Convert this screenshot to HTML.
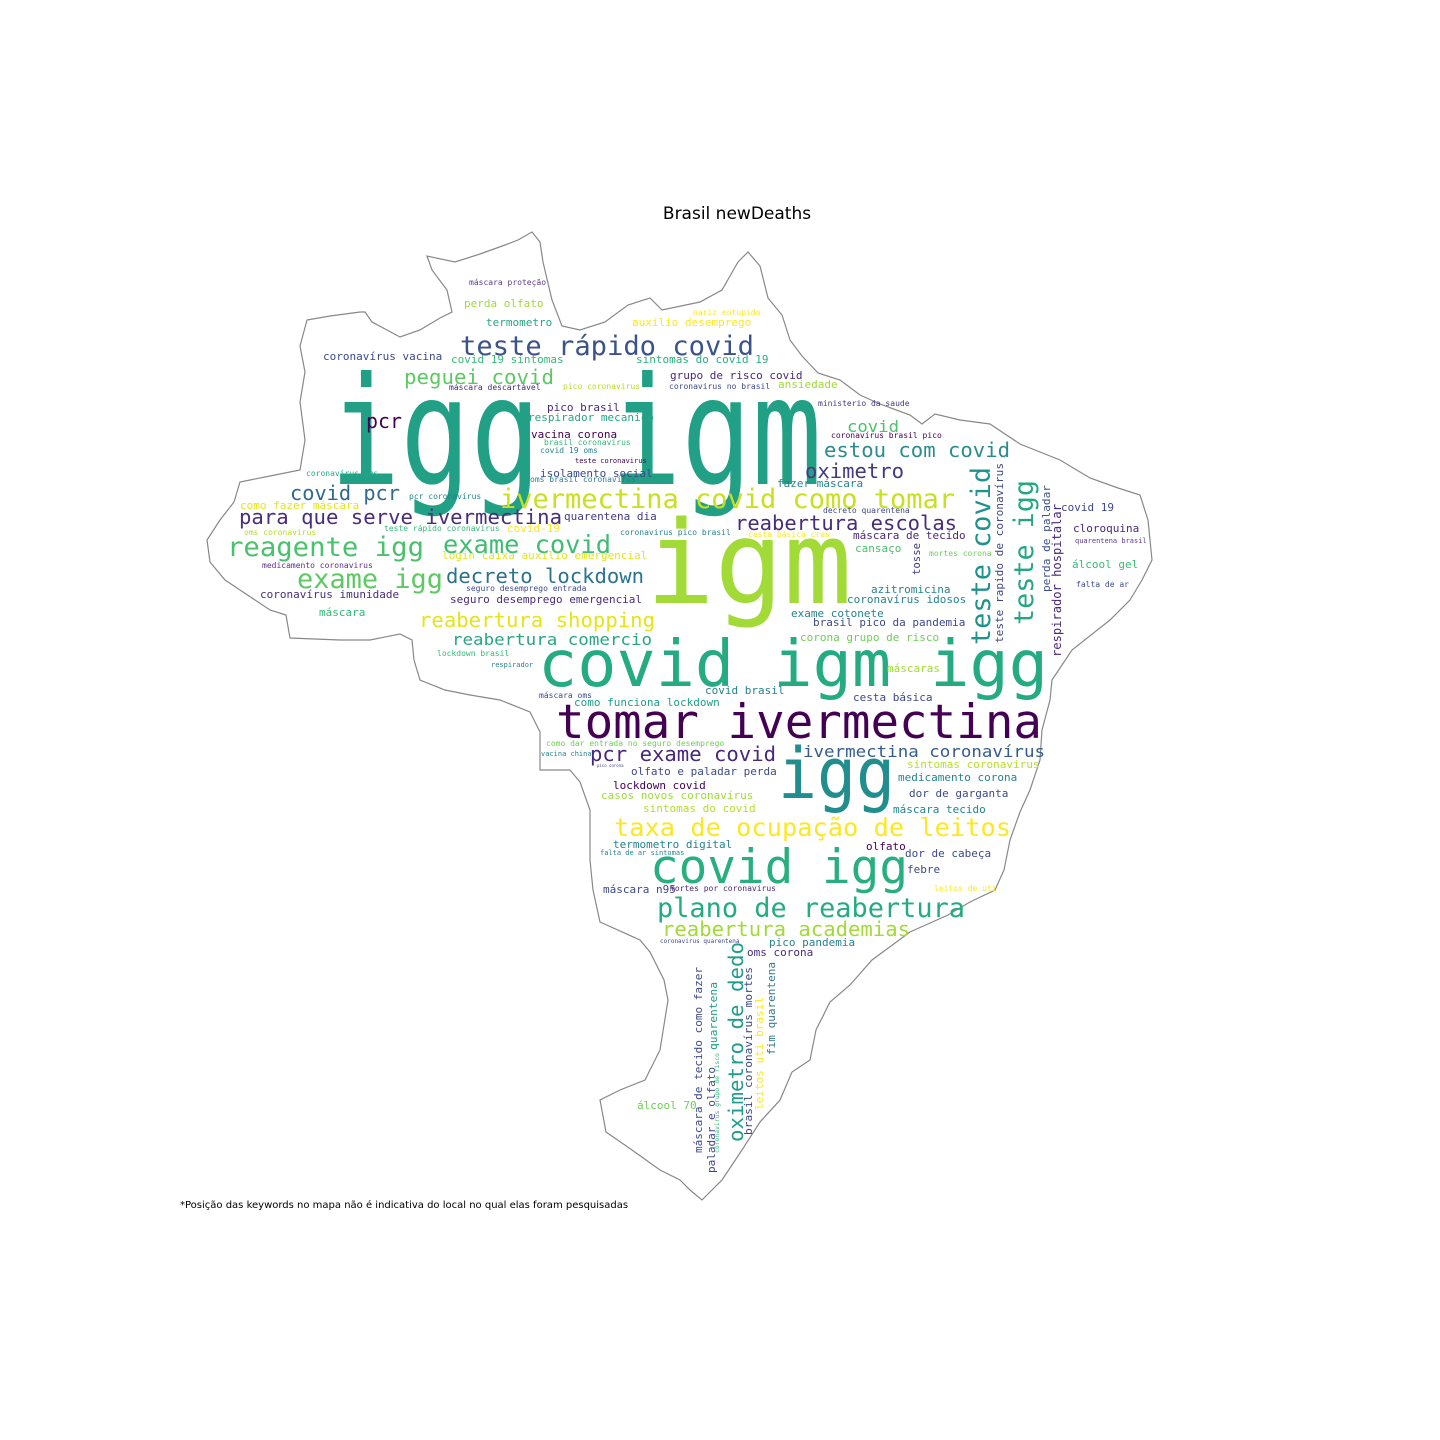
<!DOCTYPE html>
<html><head><meta charset="utf-8">
<style>
html,body{margin:0;padding:0;background:#fff;}
svg{display:block;}
.w{font-family:"DejaVu Sans Mono","Liberation Mono",monospace;}
</style></head>
<body>
<svg id="cloud" width="1440" height="1440" viewBox="0 0 1440 1440" xmlns="http://www.w3.org/2000/svg">
<rect width="1440" height="1440" fill="#fff"/>
<text x="737" y="219" text-anchor="middle" font-family="DejaVu Sans, Liberation Sans, sans-serif" font-size="17" fill="#000">Brasil newDeaths</text>
<polygon fill="none" stroke="#888" stroke-width="1.2" points="307,320 330,316 360,312 365,312 372,322 400,337 420,330 440,318 452,312 447,290 432,270 427,256 455,262 480,254 505,245 518,240 532,232 540,242 543,262 552,300 562,326 580,330 605,322 628,305 650,298 662,310 700,302 722,290 738,262 748,252 760,266 768,298 782,315 790,340 802,356 818,373 840,380 860,395 880,404 910,415 922,424 935,414 960,420 990,424 1020,444 1060,460 1090,478 1118,488 1140,495 1148,520 1152,560 1142,580 1130,600 1110,620 1072,650 1052,680 1050,700 1042,730 1040,760 1030,790 1020,812 1010,840 1004,870 995,890 970,902 948,915 910,932 872,960 850,985 830,1002 816,1030 810,1060 792,1072 780,1100 760,1122 742,1150 722,1180 702,1200 690,1190 680,1180 660,1170 632,1150 606,1132 600,1100 620,1090 645,1080 660,1050 668,1000 664,980 650,952 640,940 600,922 593,890 590,860 590,810 580,782 570,770 540,770 540,732 530,712 500,700 470,695 445,690 420,680 414,660 412,640 400,634 370,640 340,640 290,638 286,615 270,610 240,590 225,580 210,562 207,540 220,520 234,502 240,482 270,476 300,470 305,440 300,402 305,372 300,346 307,320"/>
<text x="180" y="1208" font-family="DejaVu Sans, Liberation Sans, sans-serif" font-size="10" fill="#000">*Posição das keywords no mapa não é indicativa do local no qual elas foram pesquisadas</text>
<g id="words" class="w"></g>
</svg>
<script>
// word, x, y, font size, colour, rotation(0/-90), optional textLength
const words = [
["igg igm",330,484,150,"#21a085",0,492],
["igm",646,603,115,"#a2da37",0,206],
["covid igm igg",538,686,64,"#25ab82",0,510],
["tomar ivermectina",556,738,47,"#440154",0,486],
["igg",778,798,70,"#218e8d",0,117],
["covid igg",650,883,47,"#29af7f",0,258],
["teste rápido covid",460,355,27,"#3b528b",0,294],
["ivermectina covid como tomar",500,508,27,"#c8e020",0,455],
["reagente igg",227,556,27,"#4ac16d",0,197],
["exame igg",297,588,27,"#5ec962",0,146],
["exame covid",443,553,25,"#3fbc73",0,168],
["decreto lockdown",446,583,20,"#2c728e",0,198],
["para que serve ivermectina",239,524,20,"#472d7b",0,323],
["covid pcr",290,500,20,"#31688e",0,110],
["peguei covid",404,384,20,"#5ec962",0,150],
["pcr",366,428,20,"#440154",0,36],
["taxa de ocupação de leitos",614,836,25,"#fde725",0,397],
["plano de reabertura",657,917,27,"#25ab82",0,308],
["reabertura academias",662,936,20,"#a2da37",0,248],
["reabertura shopping",419,627,20,"#e5e419",0,236],
["reabertura comercio",452,645,16,"#29a584",0,200],
["reabertura escolas",735,530,20,"#472d7b",0,222],
["estou com covid",824,457,20,"#2c8c8c",0,186],
["oximetro",805,478,20,"#443983",0,99],
["covid",847,432,16,"#4ac16d",0,52],
["ivermectina coronavírus",803,757,16,"#365c8d",0,242],
["pcr exame covid",590,761,20,"#482878",0,186],
["teste covid",990,645,27,"#20928c",-90,178],
["teste igg",1033,625,27,"#25a584",-90,145],
["teste rapido de coronavírus",1003,643,11,"#3e4989",-90,180],
["perda de paladar",1050,592,11,"#3b528b",-90,107],
["respirador hospitalar",1061,657,12,"#482878",-90,153],
["tosse",920,575,11,"#443983",-90,32],
["oximetro de dedo",743,1142,20,"#1f9e89",-90,200],
["máscara de tecido como fazer",702,1153,11,"#3e4989",-90,186],
["paladar e olfato",715,1173,11,"#3e4989",-90,106],
["quarentena",717,1050,11,"#1f9e89",-90,68],
["coronavirus grupo de risco",719,1153,6,"#35b779",-90,100],
["brasil coronavírus mortes",752,1135,11,"#3e4989",-90,168],
["leitos uti brasil",763,1110,11,"#fde725",-90,113],
["fim quarentena",775,1055,11,"#35778e",-90,93],
["máscara proteção",469,285,8,"#5b3c8e"],
["perda olfato",464,307,11,"#a0da39"],
["termometro",486,326,11,"#2aa584"],
["auxilio desemprego",632,326,11,"#fde725"],
["nariz entupido",693,315,8,"#fde725"],
["coronavírus vacina",323,360,11,"#3e4989"],
["covid 19 sintomas",451,363,11,"#35b779"],
["sintomas do covid 19",636,363,11,"#2ab07f"],
["grupo de risco covid",670,379,11,"#482878"],
["coronavirus no brasil",669,389,8,"#3e4989"],
["ansiedade",778,388,11,"#a0da39"],
["máscara descartável",449,390,8,"#482878"],
["pico coronavirus",563,389,8,"#b5de2b"],
["ministerio da saude",818,406,8,"#443983"],
["pico brasil",547,411,11,"#482878"],
["respirador mecanico",528,421,11,"#2aa584"],
["vacina corona",531,438,11,"#440154"],
["coronavírus brasil pico",831,438,8,"#440154"],
["brasil coronavírus",544,445,8,"#35b779"],
["covid 19 oms",540,453,8,"#26828e"],
["teste coronavirus",575,463,7,"#440154"],
["coronavírus oms",306,476,8,"#26a98b"],
["isolamento social",540,477,11,"#3e4989"],
["oms brasil coronavírus",530,482,8,"#26828e"],
["fazer máscara",777,487,11,"#26828e"],
["pcr coronavírus",409,499,8,"#26828e"],
["como fazer máscara",240,509,11,"#e5e419"],
["quarentena dia",564,520,11,"#443983"],
["decreto quarentena",823,513,8,"#3e4989"],
["covid 19",1061,511,11,"#3e4989"],
["cloroquina",1073,532,11,"#482878"],
["quarentena brasil",1075,543,7,"#5b3c8e"],
["oms coronavirus",244,535,8,"#b5de2b"],
["teste rápido coronavírus",384,531,8,"#35b779"],
["covid-19",507,532,11,"#fde725"],
["coronavirus pico brasil",620,535,8,"#26828e"],
["cesta básica cras",748,537,8,"#fde725"],
["máscara de tecido",853,539,11,"#482878"],
["cansaço",855,552,11,"#4ac16d"],
["mortes corona",929,556,8,"#6ece58"],
["login caixa auxilio emergencial",442,559,11,"#e5e419"],
["medicamento coronavirus",262,568,8,"#5b2f8a"],
["álcool gel",1072,568,11,"#3bbb75"],
["falta de ar",1076,587,8,"#3e4989"],
["azitromicina",871,593,11,"#26828e"],
["seguro desemprego entrada",466,591,8,"#3e4989"],
["coronavírus imunidade",260,598,11,"#472d7b"],
["coronavírus idosos",847,603,11,"#26828e"],
["seguro desemprego emergencial",450,603,11,"#472d7b"],
["máscara",319,616,11,"#35b779"],
["exame cotonete",791,617,11,"#26828e"],
["brasil pico da pandemia",813,626,11,"#3e4989"],
["corona grupo de risco",800,641,11,"#6ece58"],
["lockdown brasil",437,656,8,"#35b779"],
["respirador",491,667,7,"#26828e"],
["máscaras",887,672,11,"#a0da39"],
["máscara oms",539,698,8,"#3e4989"],
["covid brasil",705,694,11,"#26828e"],
["cesta básica",853,701,11,"#3e4989"],
["como funciona lockdown",574,706,11,"#1f9e89"],
["como dar entrada no seguro desemprego",546,746,8,"#6ece58"],
["vacina china",541,756,7,"#26828e"],
["pico corona",597,767,4,"#3e4989"],
["sintomas coronavirus",907,768,11,"#b5de2b"],
["olfato e paladar perda",631,775,11,"#3e4989"],
["medicamento corona",898,781,11,"#26828e"],
["lockdown covid",613,789,11,"#440154"],
["casos novos coronavírus",601,799,11,"#a0da39"],
["dor de garganta",909,797,11,"#3e4989"],
["sintomas do covid",643,812,11,"#b5de2b"],
["máscara tecido",893,813,11,"#26828e"],
["termometro digital",613,848,11,"#26828e"],
["falta de ar sintomas",600,855,7,"#26828e"],
["olfato",866,850,11,"#440154"],
["dor de cabeça",905,857,11,"#3e4989"],
["febre",907,873,11,"#3e4989"],
["máscara n95",603,893,11,"#3e4989"],
["mortes por coronavirus",670,891,8,"#482878"],
["leitos de uti",934,891,8,"#fde725"],
["coronavirus quarentena",660,943,6,"#3e4989"],
["pico pandemia",769,946,11,"#26828e"],
["oms corona",747,956,11,"#472d7b"],
["álcool 70",637,1109,11,"#6ece58"]
];
const g = document.getElementById('words');
const NS = "http://www.w3.org/2000/svg";
words.forEach(w => {
  const t = document.createElementNS(NS, 'text');
  
  
  t.setAttribute('x', w[1]);
  t.setAttribute('y', w[2]);
  t.setAttribute('font-size', w[3]);
  t.setAttribute('fill', w[4]);
  if (w[5]) t.setAttribute('transform', 'rotate(' + w[5] + ' ' + w[1] + ' ' + w[2] + ')');
  if (w[6]) { t.setAttribute('textLength', w[6]); t.setAttribute('lengthAdjust', 'spacingAndGlyphs'); }
  t.textContent = w[0];
  g.appendChild(t);
});
</script>
</body></html>
